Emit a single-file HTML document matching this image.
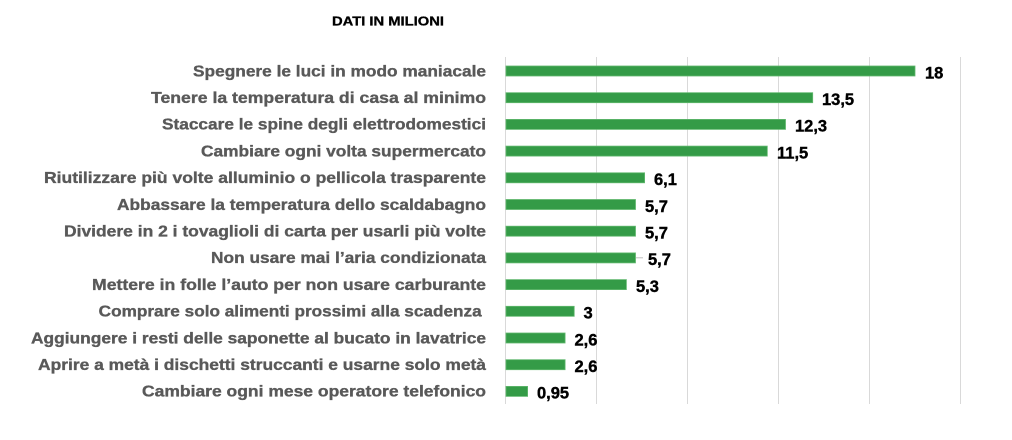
<!DOCTYPE html>
<html><head><meta charset="utf-8"><style>
html,body{margin:0;padding:0;background:#fff;}
svg{display:block;}
</style></head><body>
<svg width="1012" height="440" viewBox="0 0 1012 440" xmlns="http://www.w3.org/2000/svg">
<rect width="1012" height="440" fill="#fff"/>
<text x="332" y="25.5" font-family="Liberation Sans, sans-serif" font-weight="bold" font-size="13" fill="#000" stroke="#000" stroke-width="0.3" textLength="112" lengthAdjust="spacingAndGlyphs">DATI IN MILIONI</text>
<g stroke="#d9d9d9" stroke-width="1">
<line x1="505.5" y1="57" x2="505.5" y2="404"/>
<line x1="596.5" y1="57" x2="596.5" y2="404"/>
<line x1="687.5" y1="57" x2="687.5" y2="404"/>
<line x1="778.5" y1="57" x2="778.5" y2="404"/>
<line x1="869.5" y1="57" x2="869.5" y2="404"/>
<line x1="960.5" y1="57" x2="960.5" y2="404"/>
</g>
<g fill="#349b47" stroke="#62b86f" stroke-width="0.8">
<rect x="506" y="66" width="409" height="10"/>
<rect x="506" y="92.7" width="306.7" height="10"/>
<rect x="506" y="119.4" width="279.5" height="10"/>
<rect x="506" y="146.1" width="261.3" height="10"/>
<rect x="506" y="172.8" width="138.6" height="10"/>
<rect x="506" y="199.5" width="129.5" height="10"/>
<rect x="506" y="226.2" width="129.5" height="10"/>
<rect x="506" y="252.9" width="129.5" height="10"/>
<rect x="506" y="279.6" width="120.4" height="10"/>
<rect x="506" y="306.3" width="68.2" height="10"/>
<rect x="506" y="333" width="59.1" height="10"/>
<rect x="506" y="359.7" width="59.1" height="10"/>
<rect x="506" y="386.4" width="21.6" height="10"/>
</g>
<line x1="636" y1="257.8" x2="643" y2="257.8" stroke="#bfbfbf" stroke-width="1"/>
<g font-family="Liberation Sans, sans-serif" font-weight="bold" font-size="16.5" fill="#000" stroke="#000" stroke-width="0.4">
<text x="925" y="78.3">18</text>
<text x="822" y="105">13,5</text>
<text x="795" y="131.7">12,3</text>
<text x="777" y="158.4">11,5</text>
<text x="654" y="185.1">6,1</text>
<text x="645" y="211.8">5,7</text>
<text x="645" y="238.5">5,7</text>
<text x="648" y="265.2">5,7</text>
<text x="636" y="291.9">5,3</text>
<text x="583.5" y="318.6">3</text>
<text x="574.5" y="345.3">2,6</text>
<text x="574.5" y="372">2,6</text>
<text x="537" y="398.7">0,95</text>
</g>
<g font-family="Liberation Sans, sans-serif" font-weight="bold" font-size="15.8" fill="#595959" stroke="#595959" stroke-width="0.35" text-anchor="end">
<text x="486" y="76.3" textLength="293" lengthAdjust="spacingAndGlyphs">Spegnere le luci in modo maniacale</text>
<text x="486" y="103" textLength="335" lengthAdjust="spacingAndGlyphs">Tenere la temperatura di casa al minimo</text>
<text x="486" y="129.7" textLength="324" lengthAdjust="spacingAndGlyphs">Staccare le spine degli elettrodomestici</text>
<text x="486" y="156.4" textLength="285" lengthAdjust="spacingAndGlyphs">Cambiare ogni volta supermercato</text>
<text x="486" y="183.1" textLength="442" lengthAdjust="spacingAndGlyphs">Riutilizzare più volte alluminio o pellicola trasparente</text>
<text x="486" y="209.8" textLength="369" lengthAdjust="spacingAndGlyphs">Abbassare la temperatura dello scaldabagno</text>
<text x="486" y="236.5" textLength="422" lengthAdjust="spacingAndGlyphs">Dividere in 2 i tovaglioli di carta per usarli più volte</text>
<text x="486" y="263.2" textLength="275" lengthAdjust="spacingAndGlyphs">Non usare mai l’aria condizionata</text>
<text x="486" y="289.9" textLength="394" lengthAdjust="spacingAndGlyphs">Mettere in folle l’auto per non usare carburante</text>
<text x="481.7" y="316.6" textLength="383" lengthAdjust="spacingAndGlyphs">Comprare solo alimenti prossimi alla scadenza</text>
<text x="486" y="343.3" textLength="455" lengthAdjust="spacingAndGlyphs">Aggiungere i resti delle saponette al bucato in lavatrice</text>
<text x="486" y="370" textLength="448" lengthAdjust="spacingAndGlyphs">Aprire a metà i dischetti struccanti e usarne solo metà</text>
<text x="486" y="396.7" textLength="344" lengthAdjust="spacingAndGlyphs">Cambiare ogni mese operatore telefonico</text>
</g>
</svg>
</body></html>
